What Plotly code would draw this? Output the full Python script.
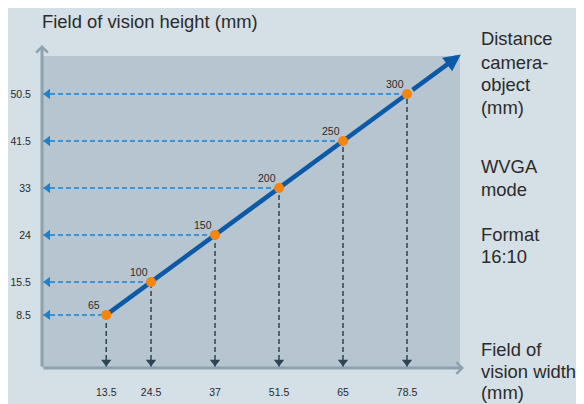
import plotly.graph_objects as go

# ---- data ----
distance = [65, 100, 150, 200, 250, 300]          # distance camera-object (mm)
width_labels = ["13.5", "24.5", "37", "51.5", "65", "78.5"]   # field of vision width (mm)
height_labels = ["8.5", "15.5", "24", "33", "41.5", "50.5"]   # field of vision height (mm)
distance_labels = [str(d) for d in distance]

side_texts = [
    ("Distance", 39), ("camera-", 62), ("object", 84), ("(mm)", 107),
    ("WVGA", 166), ("mode", 189),
    ("Format", 234), ("16:10", 257),
    ("Field of", 349), ("vision width", 371), ("(mm)", 392),
]

# ---- layout constants ----
X_RANGE = [14.8, 341.4]
Y_RANGE = [8.5, 340.4]
ARROW_TIP = 342

OFF = 8                      # default page body margin
PAGE_W, PAGE_H = 584, 404
PL, PR, PT, PB = 42, 460, 56, 368   # plot edges in page pixels
W, H = PAGE_W - OFF, PAGE_H - OFF
L, T = PL - OFF, PT - OFF
R, B = PAGE_W - PR, PAGE_H - PB
PW, PH = PR - PL, PB - PT


def px_x(p):
    return (p - PL) / PW


def px_y(p):
    return (PB - p) / PH


FONT = "Liberation Sans, Arial, sans-serif"
PAPER = "#d4dfe6"
PLOT = "#b7c5d0"
AX_COL = "#8ea2ad"
LINE_COL = "#0c59a6"
DOT_COL = "#f5850f"
H_COL = "#1d82cc"
V_COL = "#2c4753"
TXT = "#2b2b2b"

fig = go.Figure()

for d in distance:
    fig.add_trace(go.Scatter(x=[X_RANGE[0], d], y=[d, d], mode="lines",
                             line=dict(color=H_COL, width=1.5, dash="5px,3px"),
                             hoverinfo="skip"))
    fig.add_trace(go.Scatter(x=[d, d], y=[Y_RANGE[0], d], mode="lines",
                             line=dict(color=V_COL, width=1.5, dash="5px,3px"),
                             hoverinfo="skip"))

fig.add_trace(go.Scatter(x=[X_RANGE[0] + 4.5] * len(distance), y=distance, mode="markers",
                         marker=dict(symbol="triangle-left", size=9, color=H_COL),
                         hoverinfo="skip"))
fig.add_trace(go.Scatter(x=distance, y=[Y_RANGE[0] + 6.5] * len(distance), mode="markers",
                         marker=dict(symbol="triangle-down", size=9, color=V_COL),
                         hoverinfo="skip"))

fig.add_trace(go.Scatter(x=distance, y=distance, mode="lines",
                         line=dict(color=LINE_COL, width=4.5), hoverinfo="skip"))
fig.add_trace(go.Scatter(x=distance, y=distance, mode="markers",
                         marker=dict(color=DOT_COL, size=10), hoverinfo="skip"))

annotations = []
# main line arrow continuation
annotations.append(dict(x=ARROW_TIP, y=ARROW_TIP, ax=distance[-1], ay=distance[-1],
                         xref="x", yref="y", axref="x", ayref="y", text="",
                         showarrow=True, arrowhead=2, arrowwidth=4.5, arrowsize=0.75,
                         arrowcolor=LINE_COL, startstandoff=5))
# axis arrows
annotations.append(dict(x=0, y=px_y(45), xref="paper", yref="paper", ax=0, ay=PB - 45,
                         text="", showarrow=True, arrowhead=4, arrowwidth=3, arrowsize=0.75,
                         arrowcolor=AX_COL))
annotations.append(dict(x=px_x(464), y=0, xref="paper", yref="paper", ax=-(464 - PL), ay=0,
                         text="", showarrow=True, arrowhead=4, arrowwidth=3, arrowsize=0.75,
                         arrowcolor=AX_COL))
# distance labels
for d, lab in zip(distance, distance_labels):
    annotations.append(dict(x=d, y=d, xref="x", yref="y", text=lab, showarrow=False,
                             xshift=-12, yshift=10, font=dict(size=10.5, color=TXT, family=FONT)))
# title
annotations.append(dict(x=px_x(40), y=px_y(22), xref="paper", yref="paper",
                         text="Field of vision height (mm)", showarrow=False,
                         xanchor="left", yanchor="middle",
                         font=dict(size=18.4, color=TXT, family=FONT)))
# side texts
for txt, py in side_texts:
    annotations.append(dict(x=px_x(479), y=px_y(py), xref="paper", yref="paper",
                             text=txt, showarrow=False, xanchor="left", yanchor="middle",
                             font=dict(size=18.4, color=TXT, family=FONT)))

fig.update_layout(
    width=W, height=H,
    margin=dict(l=L, r=R, t=T, b=B, pad=0, autoexpand=False),
    paper_bgcolor=PAPER, plot_bgcolor=PLOT,
    showlegend=False,
    font=dict(family=FONT, color=TXT),
    annotations=annotations,
    xaxis=dict(range=X_RANGE, tickvals=distance, ticktext=width_labels,
               ticks="outside", ticklen=14, tickcolor="rgba(0,0,0,0)",
               showgrid=False, zeroline=False, showline=False, automargin=False,
               tickfont=dict(size=10.5, color=TXT, family=FONT), fixedrange=True),
    yaxis=dict(range=Y_RANGE, tickvals=distance, ticktext=height_labels,
               ticks="outside", ticklen=8, tickcolor="rgba(0,0,0,0)",
               showgrid=False, zeroline=False, showline=False, automargin=False,
               tickfont=dict(size=10.5, color=TXT, family=FONT), fixedrange=True),
)

fig.write_html("out.html", config={"displayModeBar": False})
